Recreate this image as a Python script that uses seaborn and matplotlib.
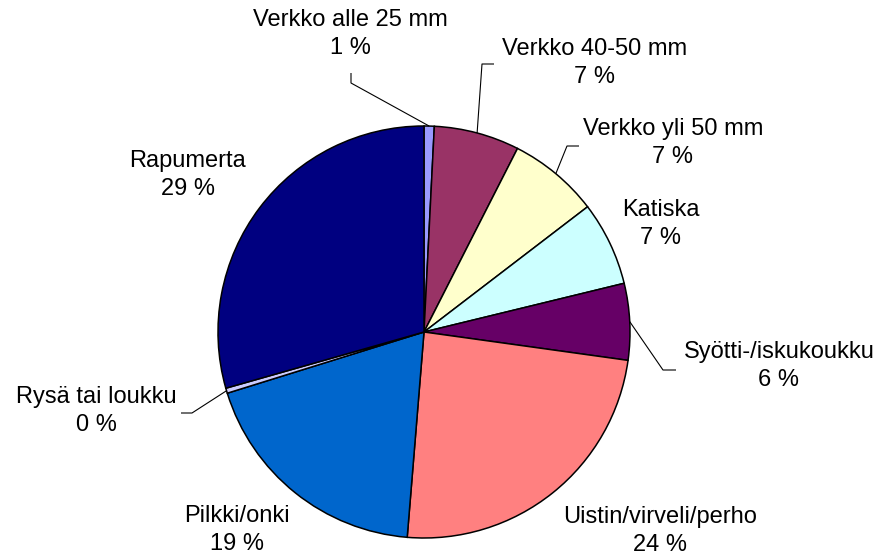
import matplotlib
matplotlib.use("Agg")
import matplotlib.pyplot as plt
import seaborn as sns
import numpy as np

categories = ["Verkko alle 25 mm", "Verkko 40-50 mm", "Verkko yli 50 mm", "Katiska",
              "Syötti-/iskukoukku", "Uistin/virveli/perho", "Pilkki/onki",
              "Rysä tai loukku", "Rapumerta"]
values = [0.8, 6.7, 7.1, 6.6, 6.0, 24.1, 18.9, 0.4, 29.4]
colors = ["#9999FF", "#993366", "#FFFFCC", "#CCFFFF", "#660066",
          "#FF8080", "#0066CC", "#CCCCFF", "#000080"]

sns.set_theme(style="white")
plt.rcParams["font.family"] = ["Liberation Sans", "DejaVu Sans"]

W, H = 879, 560
fig = plt.figure(figsize=(W / 100, H / 100), dpi=100)
ax = fig.add_axes([0, 0, 1, 1])
ax.set_xlim(0, W)
ax.set_ylim(0, H)
ax.set_aspect("equal")
ax.axis("off")

cx, cy, R = 424, H - 332, 206
wedges, _ = ax.pie(values, colors=colors, startangle=90, counterclock=False,
                   center=(cx, cy), radius=R, frame=True,
                   wedgeprops=dict(edgecolor="black", linewidth=1.1))
ax.set_xlim(0, W)
ax.set_ylim(0, H)
ax.axis("off")

# label layout (pixel coords from top-left): text center, optional leader elbow & end
layout = {
    "Verkko alle 25 mm": ((350, 34), [(351, 83), (351, 73)]),
    "Verkko 40-50 mm": ((595, 63), [(482, 64), (494, 64)]),
    "Verkko yli 50 mm": ((673, 143), [(567, 146), (579, 146)]),
    "Katiska": ((661, 224), None),
    "Syötti-/iskukoukku": ((779, 366), [(663, 370), (676, 370)]),
    "Uistin/virveli/perho": ((660, 531), None),
    "Pilkki/onki": ((237, 530), None),
    "Rysä tai loukku": ((96, 411), [(192, 413), (181, 413)]),
    "Rapumerta": ((188, 175), None),
}

for w, cat, v in zip(wedges, categories, values):
    (tx, ty), leader = layout[cat]
    ax.text(tx, H - ty, f"{cat}\n{round(v)} %", ha="center", va="center",
            fontsize=17, color="black", linespacing=1.4)
    if leader:
        mid = np.deg2rad((w.theta1 + w.theta2) / 2)
        sx, sy = cx + R * np.cos(mid), cy + R * np.sin(mid)
        xs = [sx] + [p[0] for p in leader]
        ys = [sy] + [H - p[1] for p in leader]
        ax.plot(xs, ys, color="black", linewidth=0.8, solid_capstyle="butt")

fig.savefig("out.png", dpi=100, facecolor="white")
